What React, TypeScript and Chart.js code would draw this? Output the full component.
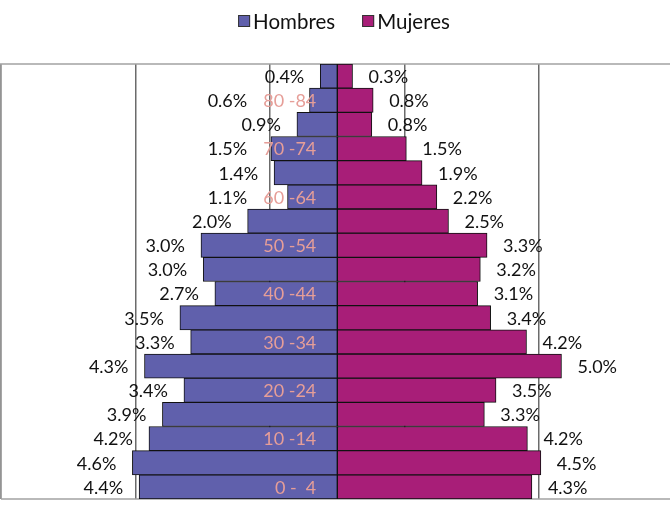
import React, { useEffect, useRef } from 'react';
import { Chart, registerables } from 'chart.js';

Chart.register(...registerables);

// Age groups, bottom (youngest) to top (oldest)
const ageGroups = ['0 -  4', '5 - 9', '10 -14', '15 -19', '20 -24', '25 -29', '30 -34', '35 -39', '40 -44', '45 -49', '50 -54', '55 -59', '60 -64', '65 -69', '70 -74', '75 -79', '80 -84', '85 +'];
// Percent of total population
const hombres = [4.42, 4.57, 4.2, 3.9, 3.42, 4.3, 3.27, 3.51, 2.73, 2.99, 3.04, 2.0, 1.11, 1.41, 1.48, 0.9, 0.62, 0.38];
const mujeres = [4.34, 4.54, 4.24, 3.28, 3.54, 5.0, 4.22, 3.42, 3.13, 3.19, 3.34, 2.48, 2.22, 1.89, 1.54, 0.77, 0.8, 0.34];
// Vertical gridline positions on the value axis
const gridValues = [-7.5, -4.5, -1.5, 1.5, 4.5];
const seriesNames = ['Hombres', 'Mujeres'];

const FONT = 'Lato, "Open Sans", sans-serif';
const COLOR_H = '#6060ac';
const COLOR_M = '#a81e78';

const framePlugin = {
  id: 'frame',
  beforeDatasetsDraw(chart: any) {
    const { ctx, chartArea } = chart;
    ctx.save();
    ctx.strokeStyle = '#a3a3a3';
    ctx.lineWidth = 1.5;
    ctx.beginPath();
    ctx.moveTo(0, chartArea.top);
    ctx.lineTo(chart.width, chartArea.top);
    ctx.moveTo(chartArea.left, chartArea.top);
    ctx.lineTo(chartArea.left, chartArea.bottom);
    ctx.moveTo(chartArea.left, chartArea.bottom);
    ctx.lineTo(chart.width, chartArea.bottom);
    ctx.stroke();
    ctx.restore();
  },
};

const labelsPlugin = {
  id: 'pyramidLabels',
  afterDatasetsDraw(chart: any) {
    const { ctx } = chart;
    const xScale = chart.scales.x;
    const center = xScale.getPixelForValue(0);
    const metaH = chart.getDatasetMeta(0);
    const metaM = chart.getDatasetMeta(1);
    ctx.save();
    ctx.font = `18px ${FONT}`;
    ctx.textBaseline = 'middle';
    const ageRight = center - 21;
    ageGroups.forEach((age, i) => {
      const barH = metaH.data[i];
      const barM = metaM.data[i];
      const y = barH.y + 1;
      const showAge = i % 2 === 0;
      let limit = barH.x;
      if (showAge) {
        ctx.fillStyle = '#e69e98';
        ctx.textAlign = 'right';
        ctx.fillText(age, ageRight, y);
        const w = ctx.measureText(age).width;
        limit = Math.min(limit, ageRight - w);
      }
      ctx.fillStyle = '#111111';
      ctx.textAlign = 'right';
      ctx.fillText(hombres[i].toFixed(1) + '%', limit - 16, y);
      ctx.textAlign = 'left';
      ctx.fillText(mujeres[i].toFixed(1) + '%', barM.x + 16, y);
    });
    ctx.restore();
  },
};

const legendPlugin = {
  id: 'customLegend',
  afterDraw(chart: any) {
    const { ctx } = chart;
    const colors = [COLOR_H, COLOR_M];
    ctx.save();
    ctx.font = `20.5px ${FONT}`;
    ctx.textBaseline = 'middle';
    ctx.textAlign = 'left';
    const box = 12;
    const gap = 3;
    const spacing = 27;
    const widths = seriesNames.map((n) => box + gap + ctx.measureText(n).width);
    const total = widths.reduce((a, b) => a + b, 0) + spacing * (seriesNames.length - 1);
    let x = 344 - total / 2;
    const y = 21;
    seriesNames.forEach((n, i) => {
      ctx.fillStyle = colors[i];
      ctx.fillRect(x, y - box / 2, box, box);
      ctx.strokeStyle = '#333333';
      ctx.lineWidth = 1;
      ctx.strokeRect(x + 0.5, y - box / 2 + 0.5, box - 1, box - 1);
      ctx.fillStyle = '#111111';
      ctx.fillText(n, x + box + gap, y + 1);
      x += widths[i] + spacing;
    });
    ctx.restore();
  },
};

export default function App() {
  const canvasRef = useRef<HTMLCanvasElement | null>(null);

  useEffect(() => {
    document.body.style.margin = '0';
    const canvas = canvasRef.current;
    if (!canvas) return;
    const chart = new Chart(canvas, {
      type: 'bar',
      data: {
        labels: ageGroups,
        datasets: [
          {
            label: seriesNames[0],
            data: hombres.map((v) => -v),
            backgroundColor: COLOR_H,
            borderColor: '#111111',
            borderWidth: 1,
            borderSkipped: false,
            barPercentage: 1,
            categoryPercentage: 1,
          },
          {
            label: seriesNames[1],
            data: mujeres,
            backgroundColor: COLOR_M,
            borderColor: '#111111',
            borderWidth: 1,
            borderSkipped: false,
            barPercentage: 1,
            categoryPercentage: 1,
          },
        ],
      },
      options: {
        indexAxis: 'y',
        animation: false,
        responsive: false,
        maintainAspectRatio: false,
        layout: { padding: { left: 1, right: 0, top: 64, bottom: 6 } },
        plugins: {
          legend: { display: false },
          tooltip: { enabled: false },
        },
        scales: {
          x: {
            type: 'linear',
            min: -7.5,
            max: 7.42,
            stacked: true,
            afterBuildTicks: (scale: any) => {
              scale.ticks = gridValues.map((v) => ({ value: v }));
            },
            grid: { color: '#6b6b6b', lineWidth: 1.5, drawTicks: false },
            border: { display: false },
            ticks: { display: false },
          },
          y: {
            type: 'category',
            reverse: true,
            stacked: true,
            display: false,
          },
        },
      },
      plugins: [framePlugin, labelsPlugin, legendPlugin],
    });
    return () => chart.destroy();
  }, []);

  return (
    <div style={{ width: 670, height: 505 }}>
      <canvas ref={canvasRef} width={670} height={505} style={{ display: 'block', width: 670, height: 505 }} />
    </div>
  );
}
